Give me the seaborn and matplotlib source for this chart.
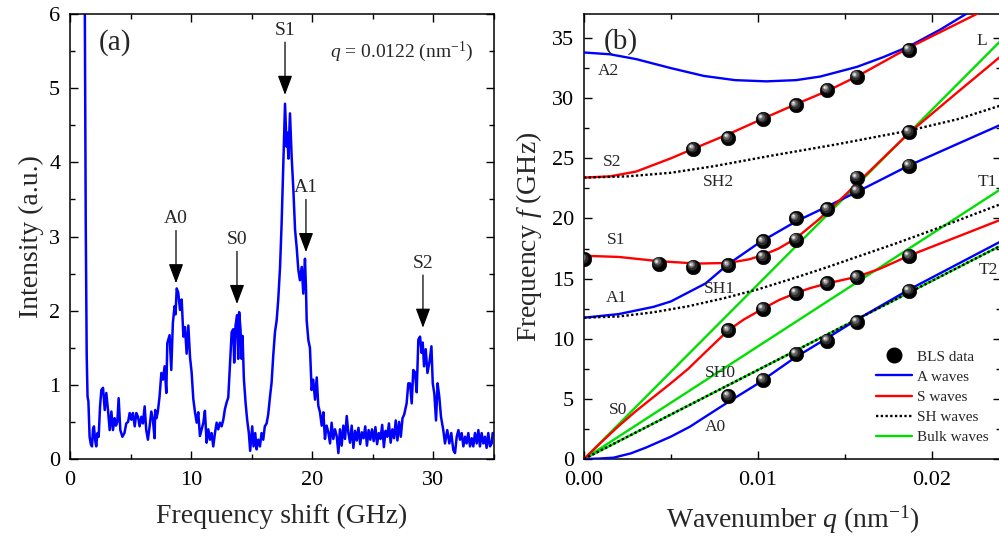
import numpy as np
import pandas as pd
import matplotlib
matplotlib.use("Agg")
import matplotlib.pyplot as plt
import matplotlib.transforms as mtransforms
from matplotlib.lines import Line2D
from matplotlib.ticker import MultipleLocator, FormatStrFormatter
import seaborn as sns

# ── (a) BLS spectrum, q = 0.0122 nm^-1 ────────────────────────────────────────
freq_ghz = [
    1.20, 1.30, 1.38, 1.45, 1.52, 1.62, 1.72, 1.82, 1.90, 1.98,
    2.08, 2.17, 2.27, 2.37, 2.48, 2.59, 2.73, 2.87, 3.00, 3.14,
    3.28, 3.42, 3.55, 3.69, 3.80, 3.91, 4.02, 4.16, 4.33, 4.50,
    4.65, 4.80, 4.93, 5.07, 5.20, 5.35, 5.48, 5.62, 5.75, 5.90,
    6.03, 6.17, 6.30, 6.44, 6.58, 6.72, 6.85, 6.99, 7.04, 7.15,
    7.26, 7.40, 7.55, 7.68, 7.82, 7.96, 8.04, 8.23, 8.37, 8.50,
    8.64, 8.72, 8.82, 8.95, 9.09, 9.23, 9.37, 9.50, 9.64, 9.78,
    9.92, 10.05, 10.19, 10.33, 10.47, 10.60, 10.74, 10.88, 11.02, 11.15,
    11.29, 11.43, 11.57, 11.70, 11.84, 11.98, 12.12, 12.25, 12.39, 12.53,
    12.67, 12.80, 12.94, 13.08, 13.22, 13.36, 13.49, 13.57, 13.68, 13.81,
    13.90, 13.98, 14.09, 14.18, 14.26, 14.37, 14.51, 14.64, 14.78, 14.89,
    15.06, 15.17, 15.31, 15.42, 15.56, 15.70, 15.83, 15.97, 16.10, 16.25,
    16.38, 16.53, 16.66, 16.80, 16.94, 17.08, 17.21, 17.36, 17.49, 17.63,
    17.77, 17.90, 17.96, 18.05, 18.18, 18.32, 18.46, 18.60, 18.73, 18.87,
    19.00, 19.15, 19.28, 19.42, 19.50, 19.56, 19.70, 19.83, 19.97, 20.10,
    20.25, 20.39, 20.52, 20.66, 20.80, 20.94, 21.07, 21.21, 21.35, 21.49,
    21.62, 21.76, 21.90, 22.04, 22.18, 22.31, 22.45, 22.59, 22.73, 22.87,
    23.00, 23.14, 23.28, 23.42, 23.56, 23.70, 23.84, 23.98, 24.12, 24.26,
    24.40, 24.54, 24.68, 24.82, 24.96, 25.10, 25.24, 25.38, 25.52, 25.66,
    25.80, 25.94, 26.08, 26.22, 26.36, 26.50, 26.64, 26.78, 26.92, 27.06,
    27.20, 27.34, 27.48, 27.62, 27.82, 27.96, 28.10, 28.24, 28.37, 28.51,
    28.65, 28.79, 28.93, 29.06, 29.15, 29.26, 29.40, 29.54, 29.70, 29.87,
    29.98, 30.11, 30.25, 30.38, 30.52, 30.66, 30.85, 30.99, 31.18, 31.35,
    31.51, 31.68, 31.82, 31.96, 32.10, 32.23, 32.37, 32.51, 32.65, 32.78,
    32.92, 33.06, 33.20, 33.33, 33.47, 33.61, 33.75, 33.88, 34.02, 34.16,
    34.30, 34.43, 34.57, 34.71, 34.85, 34.93,
]
intensity = [
    7.00, 3.20, 1.40, 0.84, 0.78, 0.30, 0.20, 0.17, 0.40, 0.44,
    0.25, 0.17, 0.35, 0.30, 0.70, 0.93, 0.96, 0.66, 0.89, 0.66,
    0.39, 0.64, 0.39, 0.55, 0.45, 0.50, 0.82, 0.39, 0.30, 0.35,
    0.48, 0.50, 0.62, 0.53, 0.62, 0.44, 0.62, 0.57, 0.44, 0.57,
    0.48, 0.71, 0.39, 0.26, 0.44, 0.64, 0.53, 0.28, 0.66, 0.55,
    0.64, 0.84, 1.16, 1.07, 1.25, 0.89, 1.56, 1.67, 1.20, 1.83,
    2.06, 1.95, 2.30, 2.24, 2.01, 2.15, 1.65, 1.78, 1.42, 1.80,
    1.37, 1.17, 0.81, 0.63, 0.49, 0.63, 0.31, 0.40, 0.49, 0.65,
    0.22, 0.40, 0.26, 0.35, 0.17, 0.35, 0.49, 0.40, 0.49, 0.44,
    0.53, 0.67, 0.76, 0.83, 1.26, 1.71, 1.75, 1.30, 1.80, 1.94,
    1.35, 1.98, 1.75, 1.35, 1.66, 1.08, 0.76, 0.53, 0.35, 0.11,
    0.44, 0.17, 0.35, 0.13, 0.26, 0.17, 0.35, 0.26, 0.44, 0.48,
    0.60, 0.84, 1.03, 1.40, 1.71, 1.87, 2.15, 2.59, 3.18, 3.98,
    4.79, 4.21, 4.40, 4.05, 4.66, 4.07, 3.63, 3.09, 2.86, 2.55,
    2.41, 2.59, 2.23, 2.70, 2.32, 1.87, 1.60, 1.50, 0.93, 1.07,
    0.80, 1.10, 0.72, 0.63, 0.45, 0.63, 0.27, 0.45, 0.36, 0.21,
    0.49, 0.27, 0.40, 0.31, 0.08, 0.40, 0.18, 0.45, 0.27, 0.58,
    0.36, 0.22, 0.45, 0.15, 0.38, 0.25, 0.42, 0.20, 0.36, 0.28,
    0.44, 0.18, 0.39, 0.26, 0.40, 0.24, 0.43, 0.20, 0.35, 0.27,
    0.46, 0.16, 0.38, 0.30, 0.48, 0.22, 0.40, 0.28, 0.52, 0.25,
    0.50, 0.30, 0.55, 0.60, 0.75, 1.02, 1.02, 0.75, 1.20, 1.17,
    0.90, 1.61, 1.65, 1.43, 1.57, 1.25, 1.48, 1.16, 1.30, 1.52,
    1.02, 0.88, 0.52, 1.02, 0.84, 0.57, 0.39, 0.21, 0.39, 0.21,
    0.35, 0.12, 0.08, 0.30, 0.39, 0.26, 0.35, 0.17, 0.30, 0.21,
    0.35, 0.17, 0.28, 0.17, 0.35, 0.21, 0.39, 0.17, 0.35, 0.21,
    0.30, 0.15, 0.35, 0.17, 0.21, 0.35,
]

# peak assignments (arrow tips)
peak_names = ["A0", "S0", "S1", "A1", "S2"]
peak_freq  = [8.76, 13.80, 17.77, 19.50, 29.17]
peak_int   = [2.37, 2.09, 4.91, 2.79, 1.77]

# ── (b) dispersion curves ─────────────────────────────────────────────────────
a0_q = [0, 0.0008, 0.0017, 0.0027, 0.0036, 0.0050, 0.0061, 0.0070, 0.00835, 0.0099, 0.0121, 0.0140, 0.0157, 0.0187, 0.0240]
a0_f = [0, 0.03, 0.11, 0.47, 0.97, 1.86, 2.69, 3.53, 4.78, 6.17, 8.39, 10.06, 11.58, 14.08, 18.10]

a1_q = [0, 0.0020, 0.0040, 0.0050, 0.0070, 0.0083, 0.0101, 0.0122, 0.0140, 0.0157, 0.0187, 0.0215, 0.0240]
a1_f = [11.75, 12.05, 12.65, 13.10, 14.60, 16.20, 18.00, 19.75, 21.00, 22.20, 24.40, 26.20, 27.80]

a2_q = [0, 0.0015, 0.0030, 0.0050, 0.0069, 0.0087, 0.0105, 0.0122, 0.0136, 0.0157, 0.0172, 0.0187, 0.0205, 0.0221, 0.0240]
a2_f = [33.8, 33.65, 33.25, 32.5, 31.85, 31.5, 31.4, 31.5, 31.8, 32.6, 33.4, 34.3, 35.7, 37.1, 38.8]

s0_q = [0, 0.0010, 0.0020, 0.0030, 0.0040, 0.0050, 0.0060, 0.0070, 0.0083, 0.0092, 0.0103, 0.0112, 0.0122, 0.0130, 0.0140, 0.0157, 0.0170, 0.0187, 0.0210, 0.0240]
s0_f = [0, 1.40, 2.75, 4.0, 5.15, 6.3, 7.5, 8.9, 10.7, 11.6, 12.5, 13.2, 13.8, 14.2, 14.6, 15.15, 15.8, 16.9, 18.2, 19.9]

s1_q = [0, 0.0020, 0.0043, 0.0065, 0.0083, 0.0095, 0.0103, 0.0112, 0.0122, 0.0135, 0.0150, 0.0157, 0.0187, 0.0215, 0.0240]
s1_f = [16.9, 16.8, 16.45, 16.25, 16.3, 16.6, 16.95, 17.5, 18.35, 19.9, 21.9, 22.9, 27.1, 30.5, 33.5]

s2_q = [0, 0.0015, 0.0030, 0.0050, 0.0063, 0.0083, 0.0103, 0.0122, 0.0140, 0.0157, 0.0187, 0.0226, 0.0240]
s2_f = [23.4, 23.5, 23.9, 25.0, 25.8, 27.0, 28.3, 29.5, 30.6, 31.8, 34.2, 37.0, 38.0]

sh0_q = [0, 0.0240]
sh0_f = [0, 17.75]

sh1_q = [0, 0.002, 0.004, 0.006, 0.008, 0.010, 0.012, 0.014, 0.016, 0.018, 0.020, 0.022, 0.024]
sh1_f = [11.75, 11.85, 12.2, 12.7, 13.35, 14.1, 15.0, 15.95, 16.95, 17.95, 19.0, 20.1, 21.2]

sh2_q = [0, 0.0025, 0.0050, 0.0075, 0.0107, 0.0145, 0.0187, 0.0215, 0.0240]
sh2_f = [23.4, 23.5, 23.8, 24.35, 25.2, 26.15, 27.3, 28.25, 29.4]

bulk_names = ["L", "T1", "T2"]
bulk_q = [[0, 0.0240], [0, 0.0240], [0, 0.0240]]
bulk_f = [[0, 34.8], [0, 22.45], [0, 17.75]]

bls_q = [0.0, 0.0043, 0.0063, 0.0083, 0.0103, 0.0103, 0.0122, 0.0122, 0.0140, 0.0157, 0.0157, 0.0187, 0.0187,
         0.0063, 0.0083, 0.0103, 0.0122, 0.0140, 0.0157, 0.0187,
         0.0083, 0.0103, 0.0122, 0.0140, 0.0157, 0.0187,
         0.0083, 0.0103, 0.0122, 0.0140, 0.0157, 0.0187]
bls_f = [16.6, 16.25, 16.0, 16.1, 16.8, 18.1, 18.25, 20.0, 20.8, 22.3, 23.4, 24.4, 27.2,
         25.8, 26.7, 28.3, 29.4, 30.7, 31.8, 34.0,
         10.7, 12.5, 13.8, 14.6, 15.1, 16.9,
         5.25, 6.6, 8.75, 9.85, 11.4, 14.0]

# mode labels on panel (b)
mode_labels = ["A2", "S2", "SH2", "L", "T1", "S1", "A1", "SH1", "SH0", "S0", "A0", "T2"]
mode_lab_q  = [0.00138, 0.00161, 0.00771, 0.0229, 0.0232, 0.00184, 0.00184, 0.00777, 0.00783, 0.00196, 0.00754, 0.02325]
mode_lab_f  = [32.25, 24.67, 23.0, 34.75, 23.0, 18.25, 13.4, 14.1, 7.17, 4.08, 2.67, 15.75]

BLUE, RED, GREEN = "#0000ff", "#ff0000", "#00e000"
DOTS = (0, (1, 1))

sns.set_theme(style="ticks")
plt.rcParams["font.family"] = ["Liberation Serif", "DejaVu Serif"]
plt.rcParams["mathtext.fontset"] = "custom"
plt.rcParams["mathtext.rm"] = "Liberation Serif"
plt.rcParams["mathtext.it"] = "Liberation Serif:italic"
plt.rcParams["axes.linewidth"] = 1.1
plt.rcParams["axes.edgecolor"] = "black"


def style_axes(ax):
    ax.tick_params(which="both", direction="in", top=True, right=True,
                   colors="black", labelsize=16, width=1.0)
    ax.tick_params(which="major", length=5.5)
    ax.tick_params(which="minor", length=3.5)
    ax.tick_params(axis="x", which="major", pad=8.5)
    ax.tick_params(axis="y", which="major", pad=7)
    for sp in ax.spines.values():
        sp.set_visible(True)
        sp.set_color("black")


fig = plt.figure(figsize=(9.99, 5.37), dpi=100)
ax1 = fig.add_axes([70 / 999, 78 / 537, 423.5 / 999, 445 / 537])
ax2 = fig.add_axes([584 / 999, 78 / 537, 417 / 999, 445 / 537])

# ---- panel (a)
spec = pd.DataFrame({"f": freq_ghz, "I": intensity})
sns.lineplot(data=spec, x="f", y="I", ax=ax1, color=BLUE, lw=1.8,
             sort=False, estimator=None)
ax1.set_xlim(0, 35)
ax1.set_ylim(0, 6)
ax1.xaxis.set_major_locator(MultipleLocator(10))
ax1.xaxis.set_minor_locator(MultipleLocator(5))
ax1.yaxis.set_major_locator(MultipleLocator(1))
ax1.yaxis.set_minor_locator(MultipleLocator(0.5))
style_axes(ax1)
ax1.set_xlabel("Frequency shift (GHz)", fontsize=20, labelpad=10)
ax1.set_ylabel("Intensity (a.u.)", fontsize=20, labelpad=4)

arrow_len, label_gap = 0.71, 0.16
for name, x, tip in zip(peak_names, peak_freq, peak_int):
    ax1.annotate("", xy=(x, tip), xytext=(x, tip + arrow_len),
                 arrowprops=dict(arrowstyle="-|>,head_length=0.8,head_width=0.3",
                                 color="black", lw=0.9, mutation_scale=15,
                                 shrinkA=0, shrinkB=0))
    ax1.text(x, tip + arrow_len + label_gap, name, ha="center", va="center", fontsize=14)

ax1.text(3.72, 5.61, "(a)", ha="center", va="center", fontsize=21)
ax1.text(27.4, 5.49, r"$q$ = 0.0122 (nm$^{-1}$)", ha="center", va="center", fontsize=14)

# ---- panel (b)
def curve(q, f, color, dotted=False, z=2):
    sns.lineplot(x=q, y=f, ax=ax2, color=color, lw=1.7, sort=False, estimator=None,
                 linestyle=DOTS if dotted else "-", zorder=z)

for q, f in zip(bulk_q, bulk_f):
    curve(q, f, GREEN, z=2)
curve(a0_q, a0_f, BLUE, z=3)
curve(a1_q, a1_f, BLUE, z=3)
curve(a2_q, a2_f, BLUE, z=3)
curve(s0_q, s0_f, RED, z=3)
curve(s1_q, s1_f, RED, z=3)
curve(s2_q, s2_f, RED, z=3)
curve(sh0_q, sh0_f, "black", dotted=True, z=4)
curve(sh1_q, sh1_f, "black", dotted=True, z=4)
curve(sh2_q, sh2_f, "black", dotted=True, z=4)

# black spheres: dark ball plus offset highlights
sns.scatterplot(x=bls_q, y=bls_f, ax=ax2, s=110, color="black", edgecolor="black",
                linewidth=0.4, zorder=5)
for dx, s, c in [(-1.3, 52, "#2a2a2a"), (-2.1, 25, "#606060"), (-2.7, 9, "#b0b0b0"), (-3.0, 2, "#f0f0f0")]:
    tr = mtransforms.offset_copy(ax2.transData, fig=fig, x=dx, y=-dx, units="dots")
    ax2.scatter(bls_q, bls_f, s=s, color=c, lw=0, transform=tr, zorder=6)

for lab, q, f in zip(mode_labels, mode_lab_q, mode_lab_f):
    ax2.text(q, f, lab, ha="center", va="center", fontsize=12.5)

ax2.text(0.0021, 34.75, "(b)", ha="center", va="center", fontsize=21)

ax2.set_xlim(0, 0.024)
ax2.set_ylim(0, 37)
ax2.xaxis.set_major_locator(MultipleLocator(0.01))
ax2.xaxis.set_minor_locator(MultipleLocator(0.005))
ax2.xaxis.set_major_formatter(FormatStrFormatter("%.2f"))
ax2.yaxis.set_major_locator(MultipleLocator(5))
ax2.yaxis.set_minor_locator(MultipleLocator(2.5))
style_axes(ax2)
ax2.set_xlabel(r"Wavenumber $q$ (nm$^{-1}$)", fontsize=20, labelpad=10)
ax2.set_ylabel(r"Frequency $f$ (GHz)", fontsize=20, labelpad=6)

handles = [
    Line2D([], [], marker="o", ls="none", color="black", ms=10.5),
    Line2D([], [], color=BLUE, lw=1.7),
    Line2D([], [], color=RED, lw=1.7),
    Line2D([], [], color="black", lw=1.7, linestyle=DOTS),
    Line2D([], [], color=GREEN, lw=1.7),
]
ax2.legend(handles, ["BLS data", "A waves", "S waves", "SH waves", "Bulk waves"],
           loc="upper left", bbox_to_anchor=(0.700, 0.245), frameon=False,
           fontsize=11, handlelength=2.35, handletextpad=0.35, labelspacing=0.42,
           borderpad=0, borderaxespad=0)

fig.savefig("out.png", dpi=100)
